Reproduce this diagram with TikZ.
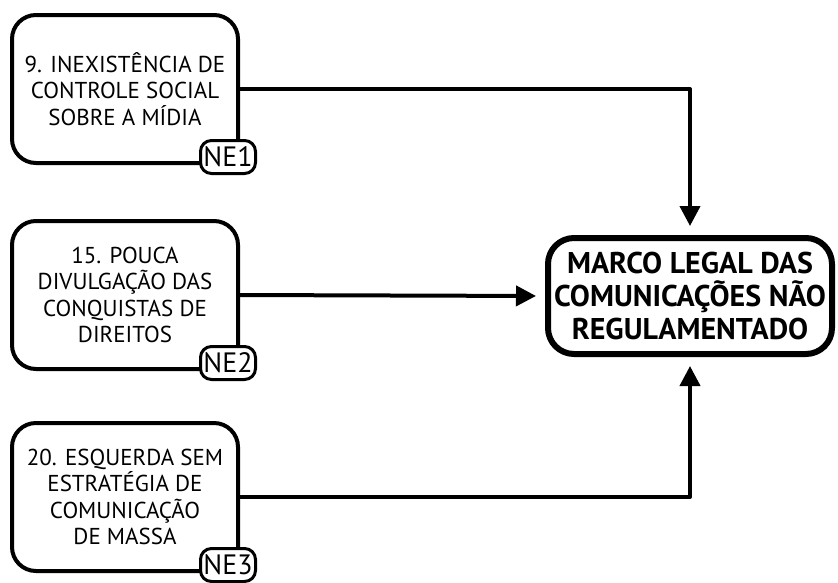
\documentclass[tikz,border=0pt]{standalone}
\usepackage{fontspec}
\setmainfont{PT Sans}
\usetikzlibrary{arrows.meta,positioning}

\begin{document}
\begin{tikzpicture}[x=1pt,y=-1pt, line join=round, >={Triangle[length=20pt,width=20pt]}]

		\tikzset{cause/.style={draw, line width=4pt, rounded corners=24pt, minimum width=226pt, minimum height=148pt, inner sep=0pt, align=center, font=\fontsize{23}{26.5}\selectfont},
			effect/.style={draw, line width=6pt, rounded corners=26pt, minimum width=284pt, minimum height=116pt, inner sep=0pt, align=center, font=\bfseries\fontsize{30}{33}\selectfont},
			tag/.style={draw, fill=white, line width=3pt, rounded corners=11pt, minimum width=55pt, minimum height=33pt, inner sep=0pt, font=\fontsize{28}{28}\selectfont},
			link/.style={line width=4pt, shorten >=9pt}}

		\useasboundingbox (0,0) rectangle (838,582);

		\node[effect] (marco) at (690,296) {MARCO LEGAL DAS\\COMUNICAÇÕES NÃO\\REGULAMENTADO};

		\node[cause] (c9) at (125,89) {9. INEXISTÊNCIA DE\\CONTROLE SOCIAL\\SOBRE A MÍDIA};
		\node[cause] (c15) at (125,295) {15. POUCA\\DIVULGAÇÃO DAS\\CONQUISTAS DE\\DIREITOS};
		\node[cause] (c20) at (125,497) {20. ESQUERDA SEM\\ESTRATÉGIA DE\\COMUNICAÇÃO\\DE MASSA};

		\foreach \c/\t in {c9/NE1, c15/NE2, c20/NE3}
		\node[tag] (\c tag) at ([shift={(-12,-8)}]\c.south east) {\t};

		\draw[link,->] (c9.east) -| (marco.north);
		\draw[link,->] (c15.east) -- (marco.west);
		\draw[link,->] (c20.east) -| (marco.south);
		\end{tikzpicture}
\end{document}
